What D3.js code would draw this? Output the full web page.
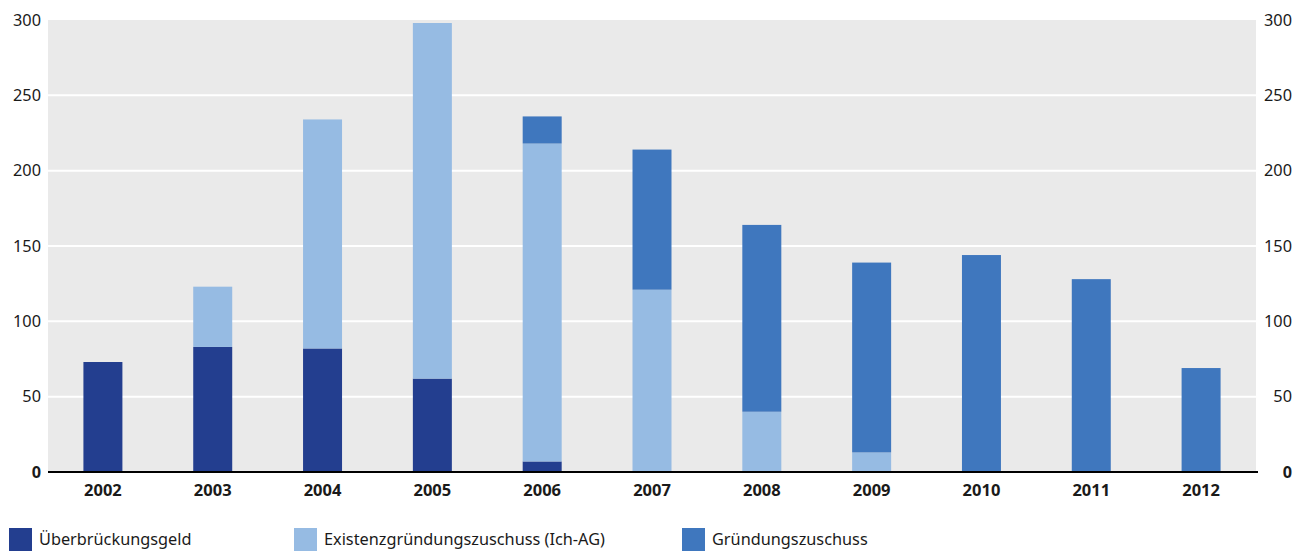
<!DOCTYPE html>
<html><head><meta charset="utf-8">
<script src="https://cdn.jsdelivr.net/npm/d3@7"></script>
<style>
body{margin:0;background:#fff;}
svg{display:block;font-family:"Noto Sans",sans-serif;}
</style></head><body>
<svg id="c" width="1306" height="552"></svg>
<script>
const years = ["2002","2003","2004","2005","2006","2007","2008","2009","2010","2011","2012"];
const ueberbrueckungsgeld = [73, 83, 82, 62, 7, 0, 0, 0, 0, 0, 0];
const existenzgruendung = [0, 40, 152, 236, 211, 121, 40, 13, 0, 0, 0];
const gruendungszuschuss = [0, 0, 0, 0, 18, 93, 124, 126, 144, 128, 69];
const seriesNames = ["Überbrückungsgeld", "Existenzgründungszuschuss (Ich-AG)", "Gründungszuschuss"];
const colors = ["#233E8F", "#96BBE3", "#3F77BE"];
const yTicks = [0, 50, 100, 150, 200, 250, 300];

const svg = d3.select("#c");
const L = 48, R = 1256, T = 20, B = 472;
const x = d3.scaleBand().domain(years).range([L, R]).paddingInner(0.645).paddingOuter(0.3225);
const y = d3.scaleLinear().domain([0, 300]).range([B, T]);

svg.append("rect").attr("x", L).attr("y", T).attr("width", R - L).attr("height", B - T).attr("fill", "#EAEAEA");

svg.append("g").selectAll("line").data(yTicks.filter(d => d > 0 && d < 300)).join("line")
  .attr("x1", L).attr("x2", R).attr("y1", d => y(d)).attr("y2", d => y(d))
  .attr("stroke", "#fff").attr("stroke-width", 2);

const table = years.map((yr, i) => ({year: yr, s0: ueberbrueckungsgeld[i], s1: existenzgruendung[i], s2: gruendungszuschuss[i]}));
const stack = d3.stack().keys(["s0", "s1", "s2"])(table);
svg.append("g").selectAll("g").data(stack).join("g").attr("fill", (d, i) => colors[i])
  .selectAll("rect").data(d => d.filter(p => p[1] > p[0])).join("rect")
  .attr("x", d => x(d.data.year)).attr("width", x.bandwidth())
  .attr("y", d => y(d[1])).attr("height", d => y(d[0]) - y(d[1]));

svg.append("line").attr("x1", L).attr("x2", R + 2).attr("y1", B).attr("y2", B)
  .attr("stroke", "#000").attr("stroke-width", 2.2);

const yl = d3.axisLeft(y).tickValues(yTicks).tickSize(0).tickPadding(7);
const gl = svg.append("g").attr("transform", `translate(${L},0)`).call(yl);
const yr2 = d3.axisRight(y).tickValues(yTicks).tickSize(0).tickPadding(0);
const gr = svg.append("g").attr("transform", `translate(${R + 36},0)`).call(yr2);
gr.selectAll("text").attr("text-anchor", "end");
[gl, gr].forEach(g => {
  g.select(".domain").remove();
  g.selectAll("text").attr("font-size", 16.3).attr("fill", "#1a1a1a").attr("font-family", "Noto Sans");
});
gl.selectAll("text").filter(d => d === 0).attr("font-weight", "bold");
gr.selectAll("text").filter(d => d === 0).attr("font-weight", "bold");

const xa = d3.axisBottom(x).tickSize(0).tickPadding(12);
const gx = svg.append("g").attr("transform", `translate(0,${B})`).call(xa);
gx.select(".domain").remove();
gx.selectAll("text").attr("font-size", 16.5).attr("font-weight", "bold").attr("fill", "#1a1a1a").attr("font-family", "Noto Sans");

const legX = [9, 294, 682];
const lg = svg.append("g").selectAll("g").data(seriesNames).join("g")
  .attr("transform", (d, i) => `translate(${legX[i]},528)`);
lg.append("rect").attr("width", 23).attr("height", 23).attr("fill", (d, i) => colors[i]);
lg.append("text").attr("x", 30).attr("y", 17).attr("font-size", 16.3).attr("fill", "#1a1a1a").text(d => d);
</script>
</body></html>
